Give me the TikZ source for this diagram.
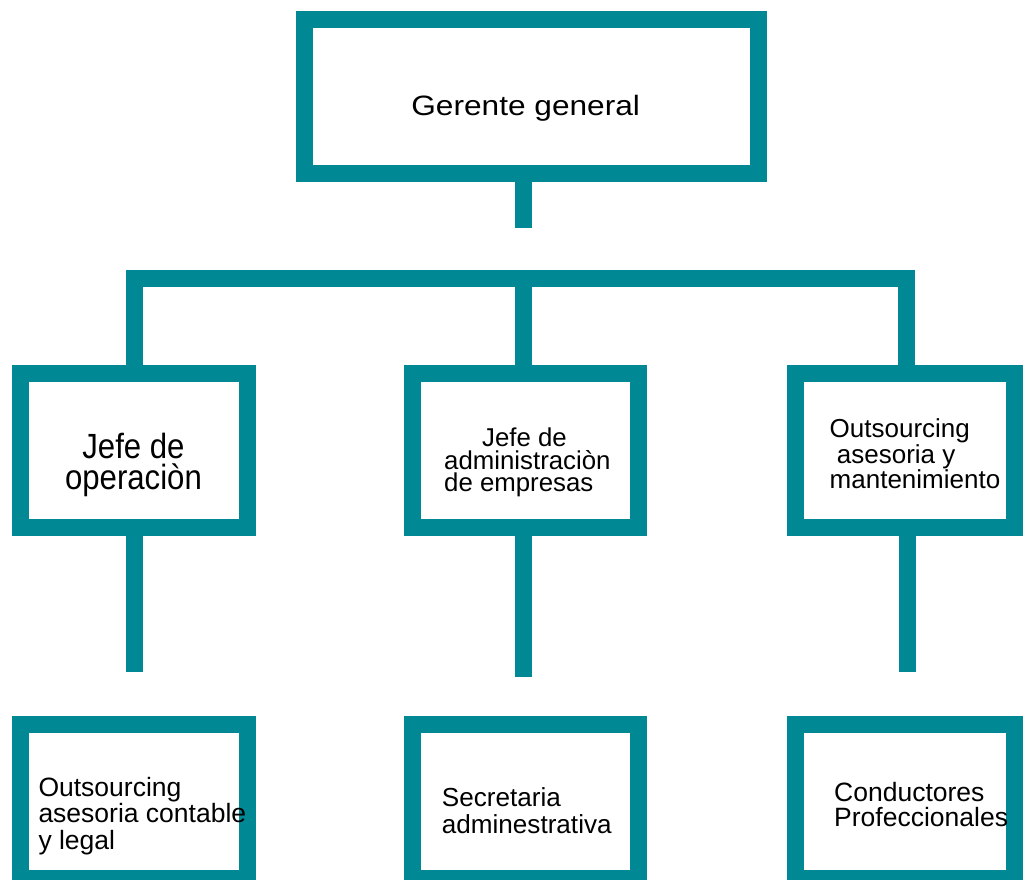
\documentclass[tikz,border=0pt]{standalone}
\usepackage{fontspec}
\setmainfont{Liberation Sans}
\usepackage{graphicx}
\definecolor{tealbox}{RGB}{0,136,148}
\newcommand\stackC[2]{\vtop{\baselineskip=#1\relax\lineskiplimit=-\maxdimen\halign{\hfil##\hfil\cr#2\crcr}}}
\newcommand\stackL[2]{\vtop{\baselineskip=#1\relax\lineskiplimit=-\maxdimen\halign{##\hfil\cr#2\crcr}}}
\begin{document}
\begin{tikzpicture}[x=1pt,y=-1pt,
  box/.style={rectangle, draw=tealbox, line width=17pt, fill=white, inner sep=0pt},
  conn/.style={draw=tealbox, line width=17pt, line cap=butt, line join=miter},
  txt/.style={inner sep=0pt, text=black}]
\useasboundingbox (0,0) rectangle (1032,879);
\fill[white] (0,0) rectangle (1032,879);
\clip (0,0) rectangle (1032,879);
% boxes
\node[box, minimum width=454pt, minimum height=154pt] (gg) at (531.5,96.5) {};
\node[box, minimum width=227pt, minimum height=154.5pt] (jo) at (134,450.25) {};
\node[box, minimum width=226pt, minimum height=154.5pt] (ja) at (525.5,450.25) {};
\node[box, minimum width=219pt, minimum height=154.5pt] (om) at (905,450.25) {};
\node[box, minimum width=227pt, minimum height=154pt] (oc) at (134,801.5) {};
\node[box, minimum width=226pt, minimum height=154pt] (sa) at (525.5,801.5) {};
\node[box, minimum width=219pt, minimum height=154pt] (cp) at (905,801.5) {};
% connectors
\coordinate (ggend) at (523.5,228);
\draw[conn] (gg.south -| ggend) -- (ggend);
\coordinate (bl) at (134,278.5);
\coordinate (bm) at (523.5,278.5);
\coordinate (br) at (906.5,278.5);
\draw[conn] (jo.north) -- (bl) -- (br) -- (br |- om.north);
\draw[conn] (bm) -- (bm |- ja.north);
\coordinate (s1) at (134,672);
\coordinate (s2) at (523.5,677);
\coordinate (s3) at (907,672);
\draw[conn] (jo.south) -- (s1);
\draw[conn] (ja.south -| s2) -- (s2);
\draw[conn] (om.south -| s3) -- (s3);
% texts
\node[txt, anchor=base, font=\fontsize{28pt}{30pt}\selectfont] (tgg) at (525.7,115) {\scalebox{1.13}[1]{Gerente general}};
\node[txt, anchor=base, font=\fontsize{35pt}{31pt}\selectfont] (tjo) at (133.5,458) {\scalebox{0.89}[1]{\stackC{31pt}{Jefe de\cr operaciòn}}};
\node[txt, anchor=base west, font=\fontsize{25.8pt}{22.5pt}\selectfont] (tja) at (444,446.7) {\stackL{22.5pt}{\kern38pt Jefe de\cr administraciòn\cr de empresas}};
\node[txt, anchor=base west, font=\fontsize{26pt}{26pt}\selectfont] (tom) at (829.5,437.3) {\stackL{25.8pt}{Outsourcing\cr\ asesoria y\cr mantenimiento}};
\node[txt, anchor=base west, font=\fontsize{26.5pt}{26pt}\selectfont] (toc) at (38.3,796.7) {\stackL{26.2pt}{Outsourcing\cr asesoria contable\cr y legal}};
\node[txt, anchor=base west, font=\fontsize{26.1pt}{26pt}\selectfont] (tsa) at (441.7,806.7) {\stackL{26.7pt}{Secretaria\cr adminestrativa}};
\node[txt, anchor=base west, font=\fontsize{26.5pt}{26pt}\selectfont] (tcp) at (834,801) {\stackL{25.7pt}{Conductores\cr Profeccionales}};
\end{tikzpicture}
\end{document}
